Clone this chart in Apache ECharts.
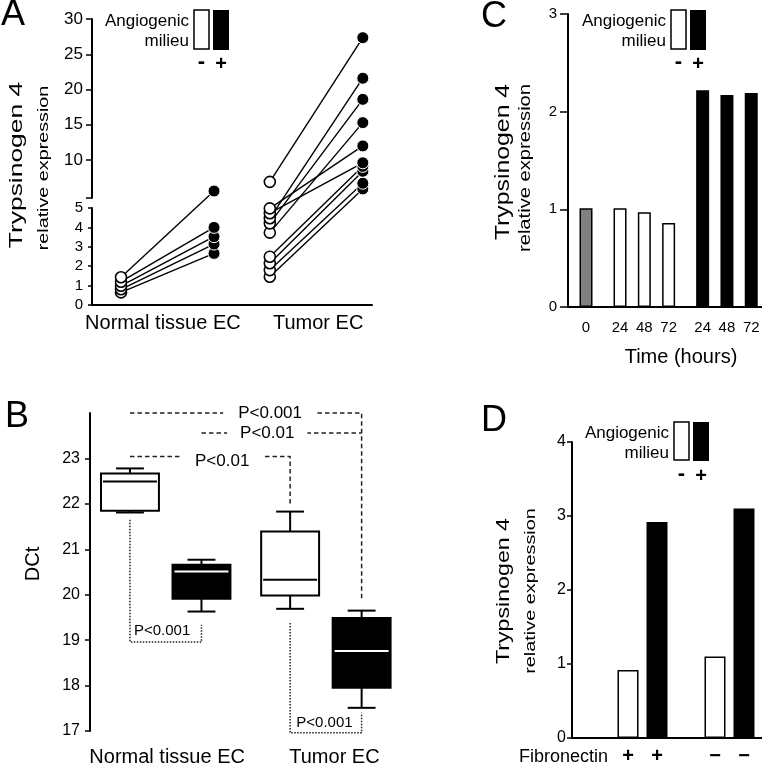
<!DOCTYPE html>
<html><head><meta charset="utf-8">
<script src="https://cdn.jsdelivr.net/npm/echarts@6/dist/echarts.min.js"></script>
<style>html,body{margin:0;padding:0;background:#fff}#c{width:762px;height:764px}</style>
</head><body><div id="c"></div>
<script>
// ================= DATA =================
// Panel A: paired samples, Trypsinogen 4 relative expression
const aGroupLabels = ['Normal tissue EC', 'Tumor EC'];
const aNormalMinus = [1.43, 1.20, 0.99, 0.81, 0.65];
const aNormalPlus  = [5.6, 4.0, 3.52, 3.14, 2.66];
const aTumorMinus  = [6.9, 4.98, 4.73, 4.47, 4.21, 3.73, 2.49, 2.15, 1.80, 1.46];
const aTumorPlus   = [27.35, 12.0, 9.6, 21.6, 18.6, 15.3, 9.1, 8.4, 6.7, 5.9];
const aTicksUpper  = [10, 15, 20, 25, 30];
const aTicksLower  = [0, 1, 2, 3, 4, 5];

// Panel B: box plots [lower whisker, Q1, median, Q3, upper whisker]
const bGroupLabels = ['Normal tissue EC', 'Tumor EC'];
const bNormalMinus = [21.81, 21.85, 22.49, 22.67, 22.78];
const bNormalPlus  = [19.63, 19.91, 20.51, 20.66, 20.77];
const bTumorMinus  = [19.69, 19.98, 20.33, 21.39, 21.83];
const bTumorPlus   = [17.51, 17.95, 18.76, 19.49, 19.65];
const bTicks = [17, 18, 19, 20, 21, 22, 23];
const bPLabels = ['P<0.001', 'P<0.01', 'P<0.01', 'P<0.001', 'P<0.001'];

// Panel C: time course
const cTimeLabels = ['0', '24', '48', '72', '24', '48', '72'];
const cControl = [1.01];
const cMinus = [1.01, 0.97, 0.86];
const cPlus  = [2.22, 2.17, 2.19];
const cTicks = [0, 1, 2, 3];

// Panel D: fibronectin
const dFibronectin = ['+', '\u2212'];
const dMinus = [0.92, 1.10];
const dPlus  = [2.92, 3.10];
const dTicks = [0, 1, 2, 3, 4];

// ================= LAYOUT =================
const FONT = "'Liberation Sans', Arial, Helvetica, sans-serif";
const BLACK = '#000';

// Panel A broken axis geometry
const A_LEFT = 92, A_TOP = 19, A_BREAK_TOP = 198, A_LOW_TOP = 208, A_BOTTOM = 305, A_W = 280;
const A_UP_MIN = 4.61, A_UP_MAX = 30, A_LOW_MAX = 5;
function aDisp(v) {
  const y = v <= A_LOW_MAX
    ? A_BOTTOM - v / A_LOW_MAX * (A_BOTTOM - A_LOW_TOP)
    : A_BREAK_TOP - (v - A_UP_MIN) / (A_UP_MAX - A_UP_MIN) * (A_BREAK_TOP - A_TOP);
  return (A_BOTTOM - y) / (A_BOTTOM - A_TOP);
}
const aX = [[0, 1], [1.6, 2.6]];
const aLabelX = [0.45, 2.12];

const bX = [0, 1, 2.24, 3.24];
const bLabelX = [0.52, 2.86];

const cGroupSizes = [1, 3, 3];
const cX = [];
cGroupSizes.forEach((n, g) => { for (let k = 0; k < n; k++) cX.push(cX.length + g * 0.4); });

const dX = [[0, 1], [3, 4]];

function findIdx(arr, v) { return arr.findIndex(p => Math.abs(p - v) < 1e-6); }

function yAxisBase(extra) {
  return Object.assign({
    type: 'value', splitLine: { show: false },
    axisLine: { show: true, onZero: false, lineStyle: { color: BLACK, width: 2 } },
    axisTick: { show: true, length: 6, lineStyle: { color: BLACK, width: 1.5 } },
    axisLabel: { color: BLACK, fontFamily: FONT }
  }, extra);
}
const hiddenAxis = (gi, extra) => Object.assign({ type: 'value', gridIndex: gi, show: false, min: 0, max: 1 }, extra || {});

// ================= GRAPHIC HELPERS =================
function txt(x, y, text, size, opts) {
  opts = opts || {};
  const al = opts.align || 'center';
  return {
    type: 'text', x: x, y: y, rotation: opts.rot || 0, scaleX: opts.sx || 1, z: 100,
    style: { text: text, font: (opts.bold ? 'bold ' : '') + size + 'px ' + FONT, fill: BLACK,
      textAlign: al, textVerticalAlign: 'middle', align: al, verticalAlign: 'middle' }
  };
}
function milieuLegend(wx, top, h) {
  return [
    txt(wx - 5, top + 11, 'Angiogenic', 17, { align: 'right' }),
    txt(wx - 5, top + 31, 'milieu', 17, { align: 'right' }),
    { type: 'rect', z: 100, shape: { x: wx, y: top, width: 15, height: h - 1 }, style: { fill: '#fff', stroke: BLACK, lineWidth: 1.5 } },
    { type: 'rect', z: 100, shape: { x: wx + 19, y: top, width: 16, height: h }, style: { fill: BLACK } },
    txt(wx + 7.5, top + 52, '-', 22, { bold: true }),
    txt(wx + 27, top + 54, '+', 20, { bold: true })
  ];
}
const R = Math.PI / 2;
const graphics = [].concat(
  [txt(13, 15, 'A', 36), txt(17, 417, 'B', 36), txt(494, 17, 'C', 36), txt(494, 421, 'D', 36)],
  [txt(17, 165, 'Trypsinogen 4', 19, { rot: R, sx: 1.39 }), txt(44, 168, 'relative expression', 14, { rot: R, sx: 1.41 })],
  [txt(503, 162, 'Trypsinogen 4', 20, { rot: R, sx: 1.24 }), txt(526, 168, 'relative expression', 16, { rot: R, sx: 1.26 })],
  [txt(504, 591, 'Trypsinogen 4', 19, { rot: R, sx: 1.22 }), txt(531, 591, 'relative expression', 14, { rot: R, sx: 1.42 })],
  [txt(33, 564, 'DCt', 20, { rot: R })],
  [txt(681, 357, 'Time (hours)', 20)],
  [txt(608, 757, 'Fibronectin', 18, { align: 'right' })],
  milieuLegend(194, 10, 40), milieuLegend(671, 10, 40), milieuLegend(674, 422, 39)
);

// ================= SERIES =================
const series = [];
// Panel A lines
const aLeft = [], aRight = [];
[[aNormalMinus, aNormalPlus], [aTumorMinus, aTumorPlus]].forEach((pair, g) => {
  pair[0].forEach((v, i) => {
    const p0 = [aX[g][0], aDisp(v)], p1 = [aX[g][1], aDisp(pair[1][i])];
    aLeft.push({ v: v, p: p0 }); aRight.push({ v: pair[1][i], p: p1 });
    series.push({ type: 'line', xAxisIndex: 2, yAxisIndex: 2, data: [p0, p1], symbol: 'none', silent: true,
      lineStyle: { color: BLACK, width: 1.4 }, z: 2, animation: false });
  });
});
aLeft.sort((a, b) => a.v - b.v); aRight.sort((a, b) => a.v - b.v);
series.push({ type: 'scatter', xAxisIndex: 2, yAxisIndex: 2, data: aLeft.map(o => o.p), symbol: 'circle', symbolSize: 11,
  itemStyle: { color: '#fff', borderColor: BLACK, borderWidth: 1.6, opacity: 1 }, z: 5, silent: true, animation: false });
series.push({ type: 'scatter', xAxisIndex: 2, yAxisIndex: 2, data: aRight.map(o => o.p), symbol: 'circle', symbolSize: 12,
  itemStyle: { color: BLACK, borderColor: '#fff', borderWidth: 1, opacity: 1 }, z: 5, silent: true, animation: false });

// Panel B boxes
const bBoxes = [bNormalMinus, bNormalPlus, bTumorMinus, bTumorPlus];
series.push({
  type: 'custom', xAxisIndex: 3, yAxisIndex: 3, z: 3, silent: true, animation: false,
  data: bBoxes.map((s, i) => [bX[i]].concat(s).concat([i % 2])),
  encode: { x: 0, y: [1, 2, 3, 4, 5] },
  renderItem: function (params, api) {
    const x = api.value(0);
    const dark = api.value(6) === 1;
    const unit = api.size([1, 0])[0];
    const bw = unit * 0.81, cw = unit * 0.39;
    const pl = api.coord([x, api.value(1)]), p1 = api.coord([x, api.value(2)]),
      pm = api.coord([x, api.value(3)]), p3 = api.coord([x, api.value(4)]), pu = api.coord([x, api.value(5)]);
    const cx = pm[0];
    const st = { stroke: BLACK, lineWidth: 2, fill: null };
    return { type: 'group', children: [
      { type: 'line', shape: { x1: cx, y1: p3[1], x2: cx, y2: pu[1] }, style: st },
      { type: 'line', shape: { x1: cx - cw / 2, y1: pu[1], x2: cx + cw / 2, y2: pu[1] }, style: st },
      { type: 'line', shape: { x1: cx, y1: p1[1], x2: cx, y2: pl[1] }, style: st },
      { type: 'line', shape: { x1: cx - cw / 2, y1: pl[1], x2: cx + cw / 2, y2: pl[1] }, style: st },
      { type: 'rect', shape: { x: cx - bw / 2, y: p3[1], width: bw, height: p1[1] - p3[1] },
        style: { fill: dark ? BLACK : '#fff', stroke: BLACK, lineWidth: 2 } },
      { type: 'line', shape: { x1: cx - bw / 2 + 2, y1: pm[1], x2: cx + bw / 2 - 2, y2: pm[1] },
        style: { stroke: dark ? '#fff' : BLACK, lineWidth: 2 } }
    ] };
  }
});
// Panel B significance brackets
const DASH = [4.5, 3], DOT = [1.5, 1.5];
const bBrackets = [
  { pts: [[bX[0], 24.0], [bX[3], 24.0], [bX[3], 19.87]], dash: DASH, at: [1.96, 24.0], pad: [0, 15], size: 17, bg: true },
  { pts: [[bX[1], 23.56], [bX[3], 23.56]], dash: DASH, at: [1.92, 23.56], pad: [0, 13], size: 17, bg: true },
  { pts: [[bX[0], 23.04], [bX[2], 23.04], [bX[2], 21.99]], dash: DASH, at: [1.29, 22.93], pad: [0, 13], size: 17, bg: true },
  { pts: [[bX[0], 21.65], [bX[0], 18.96], [bX[1], 18.96], [bX[1], 19.34]], dash: DOT, at: [0.45, 19.21], pad: 0, size: 15, bg: false },
  { pts: [[bX[2], 19.38], [bX[2], 16.96], [bX[3], 16.96], [bX[3], 17.40]], dash: DOT, at: [2.72, 17.18], pad: 0, size: 15, bg: false }
];
bBrackets.forEach(b => series.push({ type: 'line', xAxisIndex: 3, yAxisIndex: 3, data: b.pts, symbol: 'none', clip: false,
  silent: true, animation: false, z: 4, lineStyle: { color: '#222', width: 1.5, type: b.dash } }));
series.push({
  type: 'custom', xAxisIndex: 3, yAxisIndex: 3, z: 8, silent: true, animation: false, clip: false,
  data: bBrackets.map((b, i) => [b.at[0], b.at[1], i]),
  renderItem: function (params, api) {
    const i = api.value(2), b = bBrackets[i];
    const p = api.coord([api.value(0), api.value(1)]);
    return { type: 'text', x: p[0], y: p[1], style: { text: bPLabels[i], font: b.size + 'px ' + FONT, fill: BLACK,
      textAlign: 'center', textVerticalAlign: 'middle', align: 'center', verticalAlign: 'middle',
      backgroundColor: b.bg ? '#fff' : null, padding: b.pad } };
  }
});

// Panel C bars
const barBase = { type: 'bar', xAxisIndex: 4, yAxisIndex: 4, barWidth: 13, barGap: '-100%', silent: true, animation: false };
series.push(Object.assign({}, barBase, { data: cControl.map((v, i) => [cX[i], v]),
  itemStyle: { color: '#808080', borderColor: BLACK, borderWidth: 1.5 } }));
series.push(Object.assign({}, barBase, { data: cMinus.map((v, i) => [cX[1 + i], v]),
  itemStyle: { color: '#fff', borderColor: BLACK, borderWidth: 1.5 } }));
series.push(Object.assign({}, barBase, { data: cPlus.map((v, i) => [cX[4 + i], v]),
  itemStyle: { color: BLACK, borderColor: BLACK, borderWidth: 0 } }));

// Panel D bars
const dBase = { type: 'bar', xAxisIndex: 5, yAxisIndex: 5, barWidth: 21, barGap: '-100%', silent: true, animation: false };
series.push(Object.assign({}, dBase, { data: dMinus.map((v, g) => [dX[g][0], v]),
  itemStyle: { color: '#fff', borderColor: BLACK, borderWidth: 1.5 } }));
series.push(Object.assign({}, dBase, { data: dPlus.map((v, g) => [dX[g][1], v]),
  itemStyle: { color: BLACK, borderWidth: 0 } }));

// ================= OPTION =================
const cXFlat = cX;
const dXFlat = [dX[0][0], dX[0][1], dX[1][0], dX[1][1]];
const option = {
  backgroundColor: '#fff',
  animation: false,
  textStyle: { fontFamily: FONT, color: BLACK },
  grid: [
    { left: A_LEFT, top: A_TOP, width: A_W, height: A_BREAK_TOP - A_TOP, outerBoundsMode: 'none', containLabel: false },
    { left: A_LEFT, top: A_LOW_TOP, width: A_W, height: A_BOTTOM - A_LOW_TOP, outerBoundsMode: 'none', containLabel: false },
    { left: A_LEFT, top: A_TOP, width: A_W, height: A_BOTTOM - A_TOP, outerBoundsMode: 'none', containLabel: false },
    { left: 90, top: 413, width: 310, height: 318, outerBoundsMode: 'none', containLabel: false },
    { left: 568, top: 14, width: 194, height: 293, outerBoundsMode: 'none', containLabel: false },
    { left: 572, top: 442, width: 190, height: 296, outerBoundsMode: 'none', containLabel: false }
  ],
  xAxis: [
    hiddenAxis(0),
    hiddenAxis(1),
    { type: 'value', gridIndex: 2, min: -0.312, max: -0.312 + A_W / 93, splitLine: { show: false },
      axisLine: { show: true, onZero: false, lineStyle: { color: BLACK, width: 2 } }, axisTick: { show: false },
      axisLabel: { customValues: aLabelX, color: BLACK, fontFamily: FONT, fontSize: 20, margin: 8,
        formatter: v => aGroupLabels[findIdx(aLabelX, v)] || '' } },
    { type: 'value', gridIndex: 3, min: -0.559, max: -0.559 + 310 / 71.5, splitLine: { show: false },
      axisLine: { show: false, onZero: false }, axisTick: { show: false },
      axisLabel: { customValues: bLabelX, color: BLACK, fontFamily: FONT, fontSize: 20, margin: 16,
        formatter: v => bGroupLabels[findIdx(bLabelX, v)] || '' } },
    { type: 'value', gridIndex: 4, min: -0.741, max: -0.741 + 194 / 24.3, splitLine: { show: false },
      axisLine: { show: true, onZero: false, lineStyle: { color: BLACK, width: 2 } }, axisTick: { show: false },
      axisLabel: { customValues: cXFlat, color: BLACK, fontFamily: FONT, fontSize: 15, margin: 13,
        formatter: v => cTimeLabels[findIdx(cXFlat, v)] || '' } },
    { type: 'value', gridIndex: 5, min: -1.931, max: -1.931 + 190 / 29, splitLine: { show: false },
      axisLine: { show: true, onZero: false, lineStyle: { color: BLACK, width: 2 } }, axisTick: { show: false },
      axisLabel: { customValues: dXFlat, color: BLACK, fontFamily: FONT, fontSize: 20, fontWeight: 'bold', margin: 8,
        formatter: v => { const i = findIdx(dXFlat, v); return i < 0 ? '' : dFibronectin[Math.floor(i / 2)]; } } }
  ],
  yAxis: [
    yAxisBase({ gridIndex: 0, min: A_UP_MIN, max: A_UP_MAX,
      axisTick: { show: true, length: 6, customValues: [A_UP_MIN].concat(aTicksUpper), lineStyle: { color: BLACK, width: 1.5 } },
      axisLabel: { customValues: aTicksUpper, color: BLACK, fontFamily: FONT, fontSize: 17, margin: 9 } }),
    yAxisBase({ gridIndex: 1, min: 0, max: A_LOW_MAX, interval: 1,
      axisTick: { show: true, length: 4, customValues: aTicksLower, lineStyle: { color: BLACK, width: 1.5 } },
      axisLabel: { customValues: aTicksLower, color: BLACK, fontFamily: FONT, fontSize: 15, margin: 9 } }),
    hiddenAxis(2),
    yAxisBase({ gridIndex: 3, min: 17, max: 24,
      axisTick: { show: true, length: 5, customValues: bTicks, lineStyle: { color: BLACK, width: 1.5 } },
      axisLabel: { customValues: bTicks, color: BLACK, fontFamily: FONT, fontSize: 16, margin: 10 } }),
    yAxisBase({ gridIndex: 4, min: 0, max: 3, interval: 1,
      axisTick: { show: true, length: 8, customValues: cTicks, lineStyle: { color: BLACK, width: 1.5 } },
      axisLabel: { customValues: cTicks, color: BLACK, fontFamily: FONT, fontSize: 15, margin: 11 } }),
    yAxisBase({ gridIndex: 5, min: 0, max: 4, interval: 1,
      axisTick: { show: true, length: 5, customValues: dTicks, lineStyle: { color: BLACK, width: 1.5 } },
      axisLabel: { customValues: dTicks, color: BLACK, fontFamily: FONT, fontSize: 16, margin: 6 } })
  ],
  graphic: graphics,
  series: series
};
const chart = echarts.init(document.getElementById('c'), null, { renderer: 'canvas' });
chart.setOption(option);
</script>
</body></html>
